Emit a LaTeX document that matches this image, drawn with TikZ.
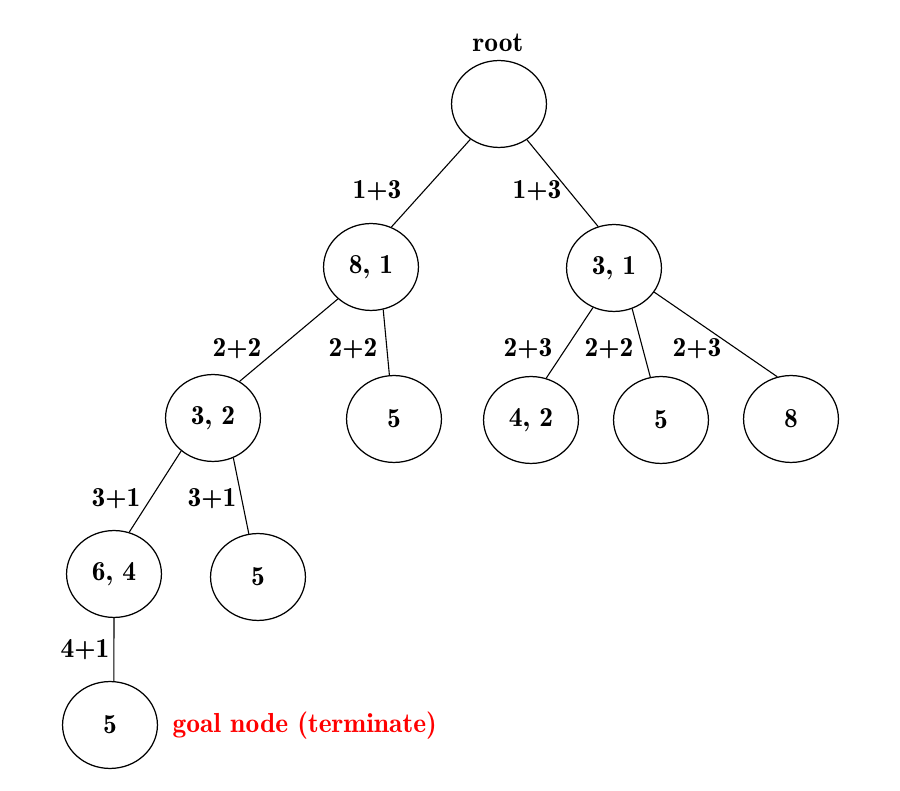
\documentclass[tikz,border=0pt]{standalone}
\usepackage{fontspec}
\newfontfamily\demifont{lmromandemi10-regular.otf}
\usetikzlibrary{shapes.geometric}
\begin{document}
\begin{tikzpicture}[x=0.3636pt,y=-0.3636pt,
  tnode/.style={ellipse,draw,line width=0.45pt,minimum width=34.5pt,minimum height=31.6pt,inner sep=0pt,font=\demifont},
  lbl/.style={anchor=base,font=\demifont,inner sep=0pt},
  conn/.style={line width=0.4pt}]
\useasboundingbox (0,0) rectangle (900,791);
% tree nodes
\node[tnode] (root) at (499,104) {};
\node[tnode] (n81) at (371,267) {8, 1};
\node[tnode] (n31) at (614,268) {3, 1};
\node[tnode] (n32) at (213,418) {3, 2};
\node[tnode] (n5a) at (394,419) {5};
\node[tnode] (n42) at (531,420) {4, 2};
\node[tnode] (n5b) at (661,420) {5};
\node[tnode] (n8) at (791,419) {8};
\node[tnode] (n64) at (114,574) {6, 4};
\node[tnode] (n5c) at (258,577) {5};
\node[tnode] (goal) at (110,725) {5};
% labels
\node[lbl] (lroot) at (498,52) {root};
\node[lbl] (l1) at (377,199) {1+3};
\node[lbl] (l2) at (537,199) {1+3};
\node[lbl] (l3) at (237,357) {2+2};
\node[lbl] (l4) at (353,357) {2+2};
\node[lbl] (l5) at (528,357) {2+3};
\node[lbl] (l6) at (609,357) {2+2};
\node[lbl] (l7) at (697,357) {2+3};
\node[lbl] (l8) at (116,507) {3+1};
\node[lbl] (l9) at (212,507) {3+1};
\node[lbl] (l10) at (85,658) {4+1};
\node[lbl,anchor=base west,text=red] (lgoal) at (172,733) {goal node (terminate)};
% edges
\draw[conn] (root.231) -- (n81.63);
\draw[conn] (root.-52) -- (n31.111);
\draw[conn] (n81.224) -- (n32.54);
\draw[conn] (n81.-74) -- (n5a.96);
\draw[conn] (n31.242) -- (n42.70);
\draw[conn] (n31.-66) -- (n5b.104);
\draw[conn] (n31.-31) -- (n8.108);
\draw[conn] (n32.226) -- (n64.70);
\draw[conn] (n32.-63) -- (n5c.102);
\draw[conn] (n64.south) -- (goal.85);
\end{tikzpicture}
\end{document}
